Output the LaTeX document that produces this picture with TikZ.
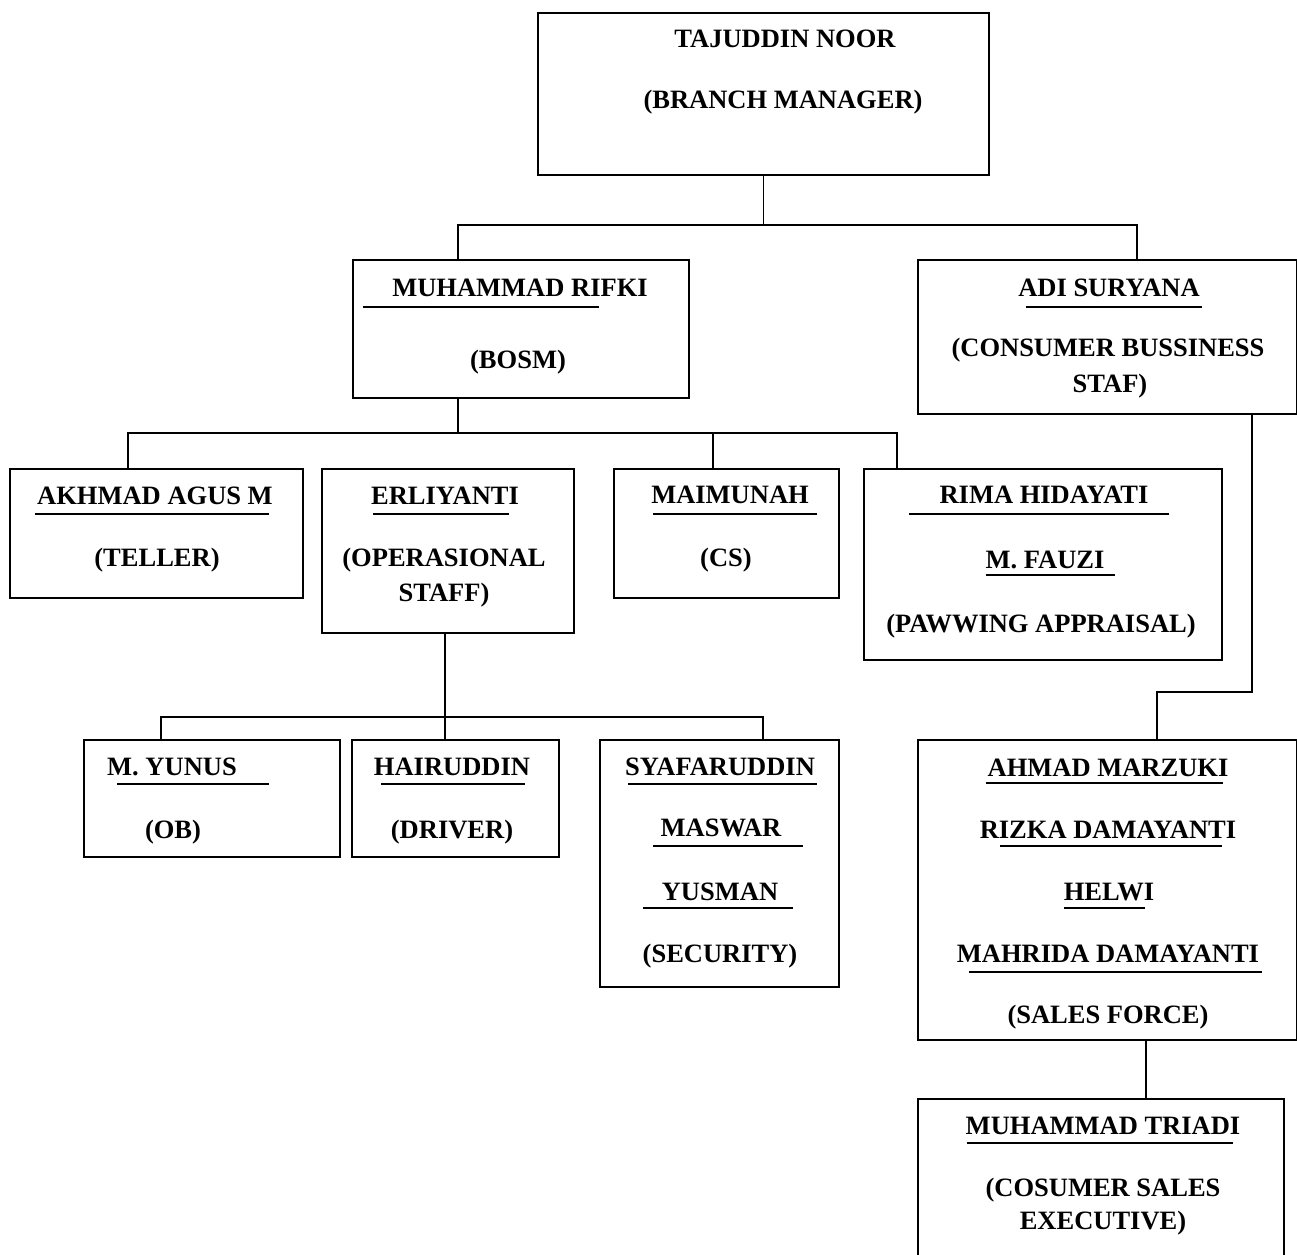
\documentclass[tikz,border=0pt]{standalone}
\usepackage{fontspec}
\setmainfont{Liberation Serif}
\begin{document}
\begin{tikzpicture}[x=1pt,y=-1pt,
  box/.style={draw, line width=1.8pt, rectangle, inner sep=0pt, anchor=north west},
  txt/.style={anchor=base, inner sep=0pt, font=\fontsize{26.5}{30}\selectfont\bfseries},
  conn/.style={draw, line width=1.8pt},
  uline/.style={draw, line width=1.8pt}]
\useasboundingbox (0,0) rectangle (1297,1254);
\clip (0,0) rectangle (1297,1254);
% boxes
\node[box, minimum width=451pt, minimum height=162pt] (bm) at (537,12) {};
\node[box, minimum width=336pt, minimum height=138pt] (rifki) at (352,259) {};
\node[box, minimum width=379pt, minimum height=154pt] (adi) at (917,259) {};
\node[box, minimum width=293pt, minimum height=129pt] (akhmad) at (9,468) {};
\node[box, minimum width=252pt, minimum height=164pt] (erl) at (321,468) {};
\node[box, minimum width=225pt, minimum height=129pt] (maim) at (613,468) {};
\node[box, minimum width=358pt, minimum height=191pt] (rima) at (863,468) {};
\node[box, minimum width=256pt, minimum height=117pt] (myunus) at (83,739) {};
\node[box, minimum width=207pt, minimum height=117pt] (hair) at (351,739) {};
\node[box, minimum width=239pt, minimum height=247pt] (syaf) at (599,739) {};
\node[box, minimum width=379pt, minimum height=300pt] (marz) at (917,739) {};
\node[box, minimum width=366pt, minimum height=180pt] (triadi) at (917,1098) {};
% junction coordinates
\coordinate (hL) at (458,225);
\coordinate (hR) at (1137,225);
\coordinate (r2L) at (128,433);
\coordinate (r2M) at (713,433);
\coordinate (r2R) at (897,433);
\coordinate (a1) at (1252,692);
\coordinate (a2) at (1157,692);
\coordinate (r3L) at (161,717);
\coordinate (r3M) at (445,717);
\coordinate (r3R) at (763,717);
\coordinate (bt) at (1146,0);
% connectors
\draw[conn] (bm.south) -- (bm.south |- hL);
\draw[conn] (hL |- rifki.north) -- (hL) -- (hR) -- (hR |- adi.north);
\draw[conn] (hL |- rifki.south) -- (hL |- r2L);
\draw[conn] (r2L |- akhmad.north) -- (r2L) -- (r2R) -- (r2R |- rima.north);
\draw[conn] (r2M) -- (r2M |- maim.north);
\draw[conn] (a1 |- adi.south) -- (a1) -- (a2) -- (a2 |- marz.north);
\draw[conn] (r3M |- erl.south) -- (r3M |- hair.north);
\draw[conn] (r3L |- myunus.north) -- (r3L) -- (r3R) -- (r3R |- syaf.north);
\draw[conn] (bt |- marz.south) -- (bt |- triadi.north);
% texts
\node[txt] (t1) at (785,47) {TAJUDDIN NOOR};
\node[txt] (t2) at (783,108) {(BRANCH MANAGER)};
\node[txt] (t3) at (520,296) {MUHAMMAD RIFKI};
\node[txt] (t4) at (518,368) {(BOSM)};
\node[txt] (t5) at (1109,296) {ADI SURYANA};
\node[txt] (t6) at (1108,356) {(CONSUMER BUSSINESS};
\node[txt] (t7) at (1110,392) {STAF)};
\node[txt] (t8) at (155,504) {AKHMAD AGUS M};
\node[txt] (t9) at (157,566) {(TELLER)};
\node[txt] (t10) at (445,504) {ERLIYANTI};
\node[txt] (t11) at (444,566) {(OPERASIONAL};
\node[txt] (t12) at (444,601) {STAFF)};
\node[txt] (t13) at (730,503) {MAIMUNAH};
\node[txt] (t14) at (726,566) {(CS)};
\node[txt] (t15) at (1044,503) {RIMA HIDAYATI};
\node[txt] (t16) at (1045,568) {M. FAUZI};
\node[txt] (t17) at (1041,632) {(PAWWING APPRAISAL)};
\node[txt] (t18) at (172,775) {M. YUNUS};
\node[txt] (t19) at (173,838) {(OB)};
\node[txt] (t20) at (452,775) {HAIRUDDIN};
\node[txt] (t21) at (452,838) {(DRIVER)};
\node[txt] (t22) at (720,775) {SYAFARUDDIN};
\node[txt] (t23) at (721,836) {MASWAR};
\node[txt] (t24) at (720,900) {YUSMAN};
\node[txt] (t25) at (720,962) {(SECURITY)};
\node[txt] (t26) at (1108,776) {AHMAD MARZUKI};
\node[txt] (t27) at (1108,838) {RIZKA DAMAYANTI};
\node[txt] (t28) at (1109,900) {HELWI};
\node[txt] (t29) at (1108,962) {MAHRIDA DAMAYANTI};
\node[txt] (t30) at (1108,1023) {(SALES FORCE)};
\node[txt] (t31) at (1103,1134) {MUHAMMAD TRIADI};
\node[txt] (t32) at (1103,1196) {(COSUMER SALES};
\node[txt] (t33) at (1103,1229) {EXECUTIVE)};
% underlines
\draw[uline] (363,307) -- (599,307);
\draw[uline] (1026,307) -- (1202,307);
\draw[uline] (35,514) -- (269,514);
\draw[uline] (373,514) -- (509,514);
\draw[uline] (653,514) -- (817,514);
\draw[uline] (909,514) -- (1169,514);
\draw[uline] (986,575) -- (1115,575);
\draw[uline] (117,784) -- (269,784);
\draw[uline] (381,784) -- (525,784);
\draw[uline] (628,784) -- (817,784);
\draw[uline] (653,846) -- (803,846);
\draw[uline] (643,908) -- (793,908);
\draw[uline] (986,783) -- (1223,783);
\draw[uline] (1000,846) -- (1222,846);
\draw[uline] (1064,908) -- (1145,908);
\draw[uline] (969,972) -- (1262,972);
\draw[uline] (967,1143) -- (1233,1143);
\end{tikzpicture}
\end{document}
